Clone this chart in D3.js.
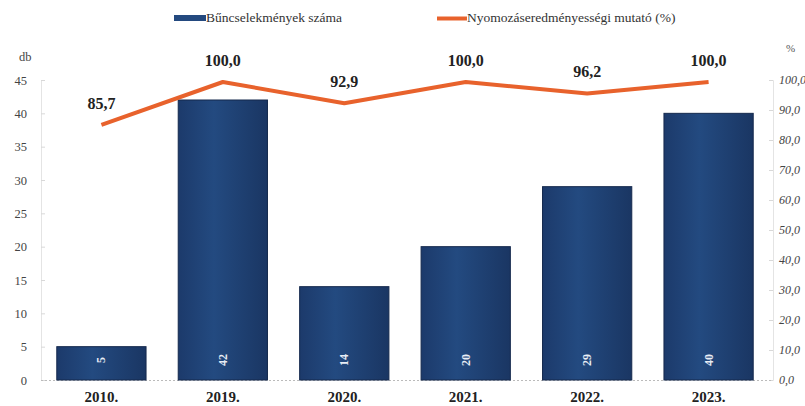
<!DOCTYPE html>
<html>
<head>
<meta charset="utf-8">
<script src="https://cdn.jsdelivr.net/npm/d3@7"></script>
<style>
  html, body { margin: 0; padding: 0; background: #fff; }
  svg { display: block; }
  svg text { font-family: "Liberation Serif", "Times New Roman", "DejaVu Serif", serif; }
</style>
</head>
<body>
<svg id="chart" width="805" height="406"></svg>
<script>
// values
const years = ['2010.', '2019.', '2020.', '2021.', '2022.', '2023.'];
const crimeCounts = [5, 42, 14, 20, 29, 40];
const clearanceRate = [85.7, 100.0, 92.9, 100.0, 96.2, 100.0];
const leftTicks = [0, 5, 10, 15, 20, 25, 30, 35, 40, 45];
const rightTicks = [0, 10, 20, 30, 40, 50, 60, 70, 80, 90, 100];

const svg = d3.select('#chart');
const plot = { left: 41, right: 769, top: 80, bottom: 380 };
const fmt = (v) => v.toFixed(1).replace('.', ',');

const x = d3.scaleBand().domain(years).range([plot.left, plot.right]).paddingInner(0.265).paddingOuter(0.13);
const yL = d3.scaleLinear().domain([0, 45]).range([plot.bottom, plot.top]);
const yR = d3.scaleLinear().domain([0, 100]).range([plot.bottom, plot.top]);

// bar gradient (slight shading like the original)
const defs = svg.append('defs');
const grad = defs.append('linearGradient').attr('id', 'barGrad').attr('x1', 0).attr('x2', 1);
grad.append('stop').attr('offset', '0%').attr('stop-color', '#1c3a6b');
grad.append('stop').attr('offset', '40%').attr('stop-color', '#234a80');
grad.append('stop').attr('offset', '100%').attr('stop-color', '#1a3663');

// left axis
const axL = svg.append('g')
  .attr('transform', `translate(${plot.left},0)`)
  .call(d3.axisLeft(yL).tickValues(leftTicks).tickSize(-4).tickPadding(14));
axL.attr('font-family', null);
axL.select('.domain').attr('stroke', '#e4e4e4');
axL.selectAll('.tick line').attr('stroke', '#d8d8d8');
axL.selectAll('.tick text').attr('font-size', 12.5).attr('fill', '#444');

// right axis
const axR = svg.append('g')
  .attr('transform', `translate(${plot.right + 4},0)`)
  .call(d3.axisRight(yR).tickValues(rightTicks).tickSize(-4).tickPadding(6).tickFormat(fmt));
axR.attr('font-family', null);
axR.select('.domain').attr('stroke', '#e4e4e4');
axR.selectAll('.tick line').attr('stroke', '#d8d8d8');
axR.selectAll('.tick text').attr('font-size', 12).attr('fill', '#444').attr('font-style', 'italic');

svg.append('text').attr('x', 19).attr('y', 61).attr('font-size', 12.5).attr('fill', '#444').text('db');
svg.append('text').attr('x', 786).attr('y', 52).attr('font-size', 11).attr('fill', '#555').text('%');

// baseline
svg.append('line')
  .attr('x1', plot.left).attr('x2', plot.right + 4)
  .attr('y1', plot.bottom + 0.5).attr('y2', plot.bottom + 0.5)
  .attr('stroke', '#bbb').attr('stroke-dasharray', '2,2');

// bars
svg.append('g').selectAll('rect')
  .data(crimeCounts)
  .join('rect')
  .attr('x', (d, i) => x(years[i]))
  .attr('y', (d) => yL(d))
  .attr('width', x.bandwidth())
  .attr('height', (d) => yL(0) - yL(d))
  .attr('fill', 'url(#barGrad)')
  .attr('stroke', '#15294d')
  .attr('stroke-width', 1);

// rotated bar value labels
svg.append('g').selectAll('text')
  .data(crimeCounts)
  .join('text')
  .attr('transform', (d, i) => `translate(${x(years[i]) + x.bandwidth() / 2 + 4},${plot.bottom - 20}) rotate(-90)`)
  .attr('text-anchor', 'middle')
  .attr('font-size', 12)
  .attr('font-weight', 'bold')
  .attr('fill', '#e8edf5')
  .text((d) => d);

// category labels
svg.append('g').selectAll('text')
  .data(years)
  .join('text')
  .attr('x', (d) => x(d) + x.bandwidth() / 2)
  .attr('y', 402)
  .attr('text-anchor', 'middle')
  .attr('font-size', 15)
  .attr('font-weight', 'bold')
  .attr('fill', '#222')
  .text((d) => d);

// line series
const cx = (i) => x(years[i]) + x.bandwidth() / 2;
const line = d3.line().x((d, i) => cx(i)).y((d) => yR(d) + 2);
svg.append('path')
  .datum(clearanceRate)
  .attr('d', line)
  .attr('fill', 'none')
  .attr('stroke', '#e8622c')
  .attr('stroke-width', 4)
  .attr('stroke-linejoin', 'round');

svg.append('g').selectAll('text')
  .data(clearanceRate)
  .join('text')
  .attr('x', (d, i) => cx(i))
  .attr('y', (d) => yR(d) - 14)
  .attr('text-anchor', 'middle')
  .attr('font-size', 16)
  .attr('font-weight', 'bold')
  .attr('fill', '#222')
  .text(fmt);

// legend
const lg = svg.append('g');
lg.append('rect').attr('x', 174).attr('y', 15).attr('width', 32).attr('height', 6).attr('fill', '#23497f');
lg.append('text').attr('x', 206).attr('y', 22).attr('font-size', 13.5).attr('fill', '#333').text('Bűncselekmények száma');
lg.append('line').attr('x1', 437).attr('x2', 467).attr('y1', 18.5).attr('y2', 18.5).attr('stroke', '#e8622c').attr('stroke-width', 4);
lg.append('text').attr('x', 467).attr('y', 22).attr('font-size', 13.5).attr('fill', '#333').text('Nyomozáseredményességi mutató (%)');
</script>
</body>
</html>
